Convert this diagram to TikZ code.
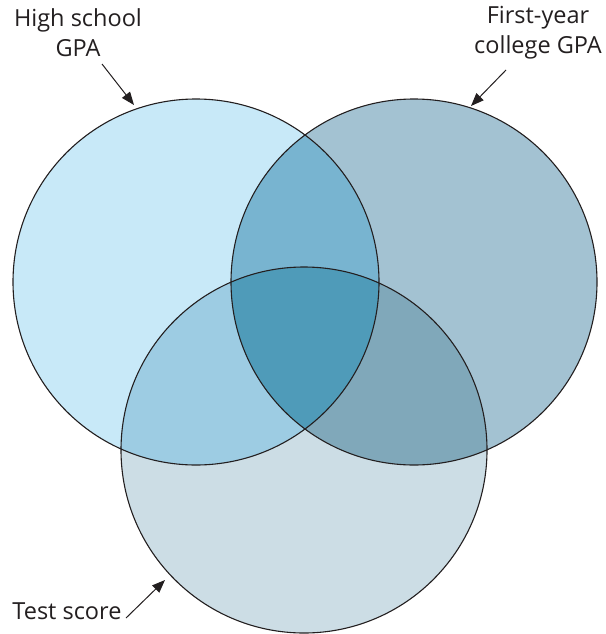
\documentclass[tikz,border=0pt]{standalone}
\usepackage{fontspec}
\setmainfont{Open Sans}
\usetikzlibrary{arrows.meta}
\definecolor{hsblue}{HTML}{C8E9F8}
\definecolor{fyblue}{HTML}{A3C2D2}
\definecolor{tsblue}{HTML}{CCDDE5}
\definecolor{hsfy}{HTML}{78B4D0}
\definecolor{hsts}{HTML}{9DCCE3}
\definecolor{fyts}{HTML}{80A8BA}
\definecolor{allthree}{HTML}{4F9BB9}
\definecolor{ink}{HTML}{231F20}
\tikzset{
  label text/.style={font=\fontsize{23.5}{30}\selectfont, text=ink, align=center, inner sep=0pt},
  pointer/.style={draw=ink, line width=1pt, -{Triangle[length=13pt,width=10pt]}}
}
\begin{document}
\begin{tikzpicture}[x=1pt,y=-1pt]
  \useasboundingbox (0,0) rectangle (605,634);
  \coordinate (hs) at (196,282);
  \coordinate (fy) at (414,282);
  \coordinate (ts) at (304,450);
  % single circles
  \fill[hsblue] (hs) circle (183pt);
  \fill[fyblue] (fy) circle (183pt);
  \fill[tsblue] (ts) circle (183pt);
  % overlaps
  \begin{scope}
    \clip (hs) circle (183pt);
    \fill[hsfy] (fy) circle (183pt);
    \fill[hsts] (ts) circle (183pt);
  \end{scope}
  \begin{scope}
    \clip (fy) circle (183pt);
    \fill[fyts] (ts) circle (183pt);
    \clip (hs) circle (183pt);
    \fill[allthree] (ts) circle (183pt);
  \end{scope}
  % outlines
  \draw[ink, line width=1.1pt] (hs) circle (183pt) (fy) circle (183pt) (ts) circle (183pt);
  % labels
  \node[label text] (hslabel) at (78,33) {High school\\GPA};
  \node[label text] (fylabel) at (538,33) {First-year\\college GPA};
  \node[label text] (tslabel) at (67,611) {Test score};
  \coordinate (hsstart) at (102,64);
  \coordinate (fystart) at (506,70);
  \coordinate (tsstart) at (126,618);
  \coordinate (hstip) at (134,105);
  \coordinate (fytip) at (471,106);
  \coordinate (tstip) at (165,580);
  \draw[pointer] (hsstart) -- (hstip);
  \draw[pointer] (fystart) -- (fytip);
  \draw[pointer] (tsstart) -- (tstip);
\end{tikzpicture}
\end{document}
